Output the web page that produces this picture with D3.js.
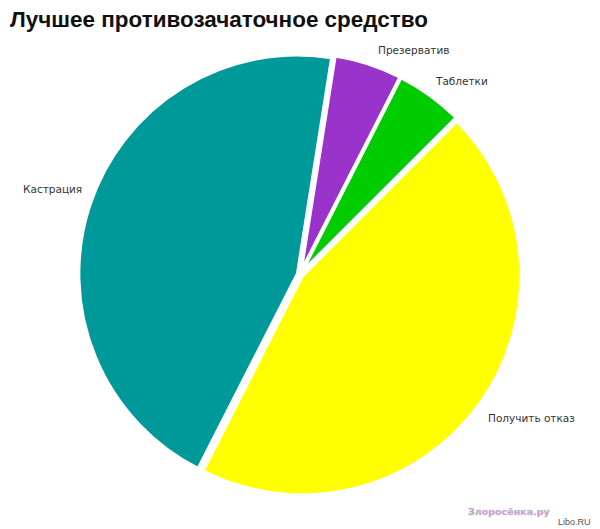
<!DOCTYPE html>
<html><head><meta charset="utf-8">
<script src="https://cdn.jsdelivr.net/npm/d3@7"></script>
<style>body{margin:0;background:#fff}</style>
</head><body>
<svg id="chart" width="600" height="529"></svg>
<script>
const title = "Лучшее противозачаточное средство";
const categories = ["Презерватив", "Таблетки", "Получить отказ", "Кастрация"];
const values = [5, 5, 45, 45];
const colors = ["#9933cc", "#00cc00", "#ffff00", "#009999"];
const labelPos = [[378, 54], [436, 85], [488, 422], [23, 193]];

const svg = d3.select("#chart");
svg.append("rect").attr("width", 600).attr("height", 529).attr("fill", "#fff");

const cx = 300, cy = 274.5, r = 219, explode = 2.5;
const startDeg = 9;
const pie = d3.pie().sort(null).value(d => d)
  .startAngle(startDeg * Math.PI / 180)
  .endAngle((startDeg + 360) * Math.PI / 180);
const arcs = pie(values);
const arc = d3.arc().innerRadius(0).outerRadius(r);

const g = svg.append("g").attr("transform", `translate(${cx},${cy})`);
g.selectAll("path").data(arcs).enter().append("path")
  .attr("d", arc)
  .attr("fill", (d, i) => colors[i])
  .attr("stroke", "#fff")
  .attr("stroke-width", 3.5)
  .attr("stroke-linejoin", "miter")
  .attr("transform", d => {
    const a = (d.startAngle + d.endAngle) / 2;
    return `translate(${explode * Math.sin(a)},${-explode * Math.cos(a)})`;
  });

svg.selectAll("text.lbl").data(categories).enter().append("text")
  .attr("class", "lbl")
  .attr("x", (d, i) => labelPos[i][0])
  .attr("y", (d, i) => labelPos[i][1])
  .attr("font-family", "DejaVu Sans, Verdana, sans-serif")
  .attr("font-size", 10.5)
  .attr("fill", "#333")
  .text(d => d);

svg.append("text")
  .attr("x", 10).attr("y", 27)
  .attr("font-family", "Liberation Sans, Arial, sans-serif")
  .attr("font-weight", "bold")
  .attr("font-size", 22)
  .attr("fill", "#111")
  .attr("textLength", 418)
  .attr("lengthAdjust", "spacingAndGlyphs")
  .text(title);

// watermarks
svg.append("text")
  .attr("x", 468).attr("y", 515)
  .attr("font-family", "DejaVu Sans, sans-serif")
  .attr("font-weight", "bold")
  .attr("font-size", 9.5)
  .attr("fill", "#ec6a8a")
  .attr("stroke", "#9fd0f0")
  .attr("stroke-width", 0.5)
  .attr("opacity", 0.85)
  .text("Злоросёнка.ру");
svg.append("text")
  .attr("x", 558).attr("y", 525)
  .attr("font-family", "Liberation Sans, Arial, sans-serif")
  .attr("font-size", 9)
  .attr("fill", "#555")
  .text("Libo.RU");
</script>
</body></html>
